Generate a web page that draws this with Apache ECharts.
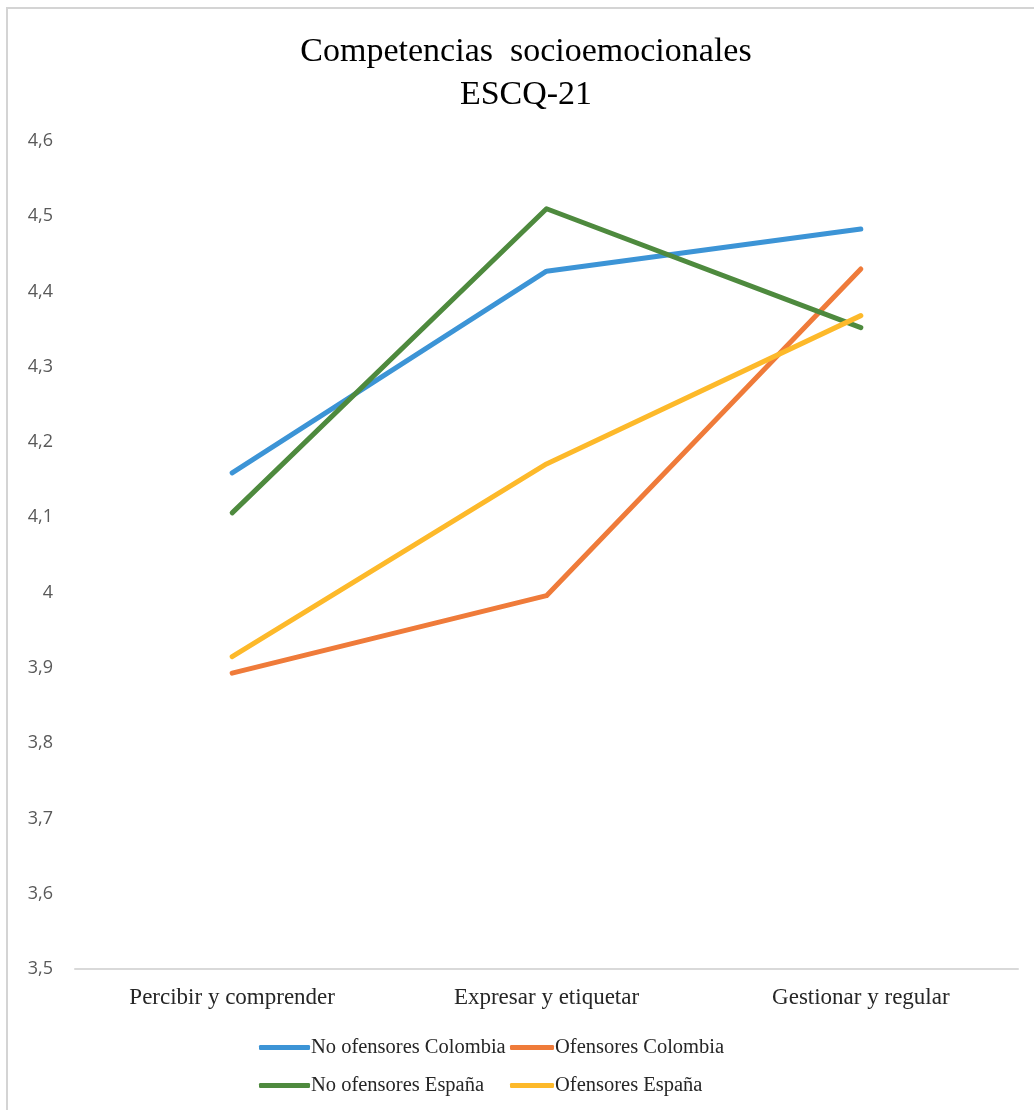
<!DOCTYPE html>
<html>
<head>
<meta charset="utf-8">
<script src="https://cdn.jsdelivr.net/npm/echarts@6/dist/echarts.min.js"></script>
<style>
  html, body { margin: 0; padding: 0; background: #ffffff; }
  #chart { width: 1034px; height: 1110px; }
</style>
</head>
<body>
<div id="chart"></div>
<script>
// Dimensiones de la escala ESCQ-21
const categories = ['Percibir y comprender', 'Expresar y etiquetar', 'Gestionar y regular'];

// Puntuaciones medias por grupo
const noOfensoresColombia = [4.159, 4.427, 4.483];
const ofensoresColombia   = [3.893, 3.996, 4.430];
const noOfensoresEspana   = [4.106, 4.510, 4.352];
const ofensoresEspana     = [3.915, 4.171, 4.368];

const seriesNames = ['No ofensores Colombia', 'Ofensores Colombia', 'No ofensores España', 'Ofensores España'];
const seriesData = [noOfensoresColombia, ofensoresColombia, noOfensoresEspana, ofensoresEspana];
const colors = ['#3c94d6', '#ef7b3a', '#4e8a3e', '#fdb92a'];

const serif = '"Liberation Serif", "Times New Roman", serif';
const sans = '"Open Sans", "Liberation Sans", sans-serif';

const chart = echarts.init(document.getElementById('chart'), null, { renderer: 'canvas' });

// Leyenda en dos filas y dos columnas
const legendPos = [
  { left: 259, top: 1037, w: 51 },
  { left: 510, top: 1037, w: 44 },
  { left: 259, top: 1075, w: 51 },
  { left: 510, top: 1075, w: 44 }
];

const option = {
  backgroundColor: '#ffffff',
  animation: false,
  title: {
    text: 'Competencias  socioemocionales\nESCQ-21',
    left: 521,
    top: 26,
    textAlign: 'center',
    textStyle: {
      fontFamily: serif,
      fontSize: 34,
      fontWeight: 'normal',
      color: '#000000',
      lineHeight: 43
    }
  },
  legend: seriesNames.map((name, i) => ({
    data: [name],
    left: legendPos[i].left,
    top: legendPos[i].top,
    padding: 0,
    icon: 'roundRect',
    itemWidth: legendPos[i].w,
    itemHeight: 5,
    itemGap: 0,
    selectedMode: false,
    textStyle: {
      fontFamily: serif,
      fontSize: 20.5,
      color: '#262626',
      padding: [0, 0, 0, -4]
    }
  })),
  grid: {
    left: 75,
    right: 16,
    top: 141,
    bottom: 141,
    containLabel: false
  },
  xAxis: {
    type: 'category',
    data: categories,
    boundaryGap: true,
    axisLine: { show: true, lineStyle: { color: '#d9d9d9', width: 2 } },
    axisTick: { show: false },
    axisLabel: {
      fontFamily: serif,
      fontSize: 23,
      color: '#262626',
      margin: 17
    },
    splitLine: { show: false }
  },
  yAxis: {
    type: 'value',
    min: 3.5,
    max: 4.6,
    interval: 0.1,
    axisLine: { show: false },
    axisTick: { show: false },
    splitLine: { show: false },
    axisLabel: {
      fontFamily: sans,
      fontSize: 18,
      color: '#595959',
      margin: 22,
      formatter: v => String(Math.round(v * 10) / 10).replace('.', ',')
    }
  },
  graphic: [
    {
      type: 'rect',
      silent: true,
      shape: { x: 7, y: 8, width: 1200, height: 1200 },
      style: { fill: 'none', stroke: '#d4d4d4', lineWidth: 2 }
    }
  ],
  series: seriesNames.map((name, i) => ({
    name: name,
    type: 'line',
    data: seriesData[i],
    showSymbol: false,
    symbol: 'none',
    color: colors[i],
    lineStyle: { width: 5, color: colors[i], cap: 'round', join: 'round' }
  }))
};

chart.setOption(option);
</script>
</body>
</html>
